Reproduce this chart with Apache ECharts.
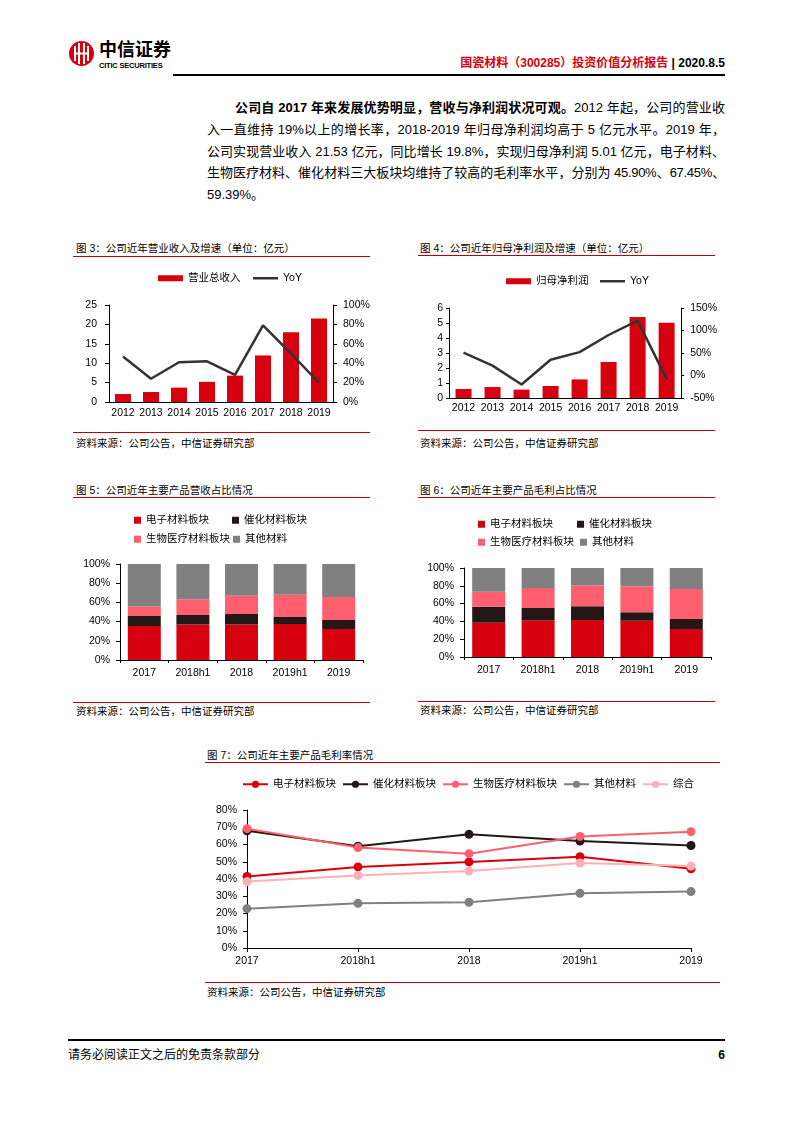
<!DOCTYPE html>
<html><head><meta charset="utf-8">
<script src="https://cdn.jsdelivr.net/npm/echarts@6/dist/echarts.min.js"></script>
<style>
body{margin:0;width:793px;height:1122px;background:#fff;position:relative;overflow:hidden;font-family:"Liberation Sans","Noto Sans CJK SC",sans-serif;color:#000}
.t{position:absolute;font-size:10.5px;line-height:14px;white-space:nowrap;color:#000}
.rl{position:absolute;height:1px;background:#c00000}
.p{position:absolute;left:207px;width:518px;font-size:13px;line-height:22px;text-align:justify;text-align-last:justify;white-space:nowrap;color:#000}
.c{position:absolute}
</style></head><body>

<!-- header -->
<svg style="position:absolute;left:68px;top:40px" width="27" height="27" viewBox="0 0 27 27">
  <circle cx="13.5" cy="13.5" r="12.5" fill="#d7000f"/>
  <rect x="6" y="6" width="2" height="15" fill="#fff"/>
  <rect x="10" y="3" width="2" height="21" fill="#fff"/>
  <rect x="15" y="3" width="2" height="21" fill="#fff"/>
  <rect x="19" y="6" width="2" height="15" fill="#fff"/>
  <rect x="6" y="12.5" width="15" height="2" fill="#fff"/>
</svg>
<div class="t" style="left:99px;top:39px;font-size:18px;line-height:22px;font-weight:bold">中信证券</div>
<div class="t" style="left:99px;top:61px;font-size:7.5px;line-height:10px;font-weight:bold;letter-spacing:-0.2px">CITIC SECURITIES</div>
<div class="t" style="right:68px;top:55px;font-size:12px;line-height:16px;font-weight:bold"><span style="color:#d7000f">国瓷材料（300285）投资价值分析报告</span> | 2020.8.5</div>
<div style="position:absolute;left:173px;top:74px;width:552px;height:2px;background:#000"></div>

<!-- paragraph -->
<div class="p" style="top:97px;left:235px;width:490px"><b>公司自 2017 年来发展优势明显，营收与净利润状况可观。</b>2012 年起，公司的营业收</div>
<div class="p" style="top:119px">入一直维持 19%以上的增长率，2018-2019 年归母净利润均高于 5 亿元水平。2019 年，</div>
<div class="p" style="top:141px">公司实现营业收入 21.53 亿元，同比增长 19.8%，实现归母净利润 5.01 亿元，电子材料、</div>
<div class="p" style="top:162px;letter-spacing:-0.3px">生物医疗材料、催化材料三大板块均维持了较高的毛利率水平，分别为 45.90%、67.45%、</div>
<div class="p" style="top:184px;text-align:left;text-align-last:left">59.39%。</div>

<!-- chart 3 -->
<div class="t" style="left:76px;top:241px">图 3：公司近年营业收入及增速（单位：亿元）</div>
<div class="rl" style="left:73px;top:256px;width:297px"></div>
<div class="c" id="c3" style="left:70px;top:265px;width:305px;height:160px"></div>
<div class="rl" style="left:73px;top:432px;width:297px"></div>
<div class="t" style="left:76px;top:436px">资料来源：公司公告，中信证券研究部</div>

<!-- chart 4 -->
<div class="t" style="left:420px;top:241px">图 4：公司近年归母净利润及增速（单位：亿元）</div>
<div class="rl" style="left:418px;top:255px;width:297px"></div>
<div class="c" id="c4" style="left:415px;top:265px;width:305px;height:160px"></div>
<div class="rl" style="left:418px;top:430px;width:297px"></div>
<div class="t" style="left:420px;top:436px">资料来源：公司公告，中信证券研究部</div>

<!-- chart 5 -->
<div class="t" style="left:76px;top:483px">图 5：公司近年主要产品营收占比情况</div>
<div class="rl" style="left:73px;top:497px;width:297px"></div>
<div class="c" id="c5" style="left:70px;top:505px;width:305px;height:190px"></div>
<div class="rl" style="left:73px;top:702px;width:297px"></div>
<div class="t" style="left:76px;top:704px">资料来源：公司公告，中信证券研究部</div>

<!-- chart 6 -->
<div class="t" style="left:420px;top:483px">图 6：公司近年主要产品毛利占比情况</div>
<div class="rl" style="left:418px;top:497px;width:297px"></div>
<div class="c" id="c6" style="left:415px;top:505px;width:305px;height:190px"></div>
<div class="rl" style="left:418px;top:701px;width:297px"></div>
<div class="t" style="left:420px;top:703px">资料来源：公司公告，中信证券研究部</div>

<!-- chart 7 -->
<div class="t" style="left:207px;top:748px">图 7：公司近年主要产品毛利率情况</div>
<div class="rl" style="left:205px;top:762px;width:515px"></div>
<div class="c" id="c7" style="left:200px;top:770px;width:525px;height:205px"></div>
<div class="rl" style="left:205px;top:982px;width:515px"></div>
<div class="t" style="left:207px;top:985px">资料来源：公司公告，中信证券研究部</div>

<!-- footer -->
<div style="position:absolute;left:68px;top:1039px;width:657px;height:1.5px;background:#000"></div>
<div class="t" style="left:68px;top:1047px;font-size:12px;line-height:16px">请务必阅读正文之后的免责条款部分</div>
<div class="t" style="right:68px;top:1047px;font-size:12px;line-height:16px;font-weight:bold">6</div>

<script>
// ---------- data ----------
const years = ['2012','2013','2014','2015','2016','2017','2018','2019'];
const revenue = [2.05, 2.57, 3.7, 5.2, 6.8, 12.0, 17.97, 21.53];
const revenueYoY = [47, 24, 41, 42, 28, 79, 50, 19.8];
const netProfit = [0.6, 0.73, 0.56, 0.8, 1.24, 2.4, 5.4, 5.01];
const netProfitYoY = [51, 22, -20, 35, 52, 90, 122, -8];

const periods = ['2017','2018h1','2018','2019h1','2019'];
const segNames = ['电子材料板块','催化材料板块','生物医疗材料板块','其他材料'];
const revShareElec  = [35.5, 37.0, 37.0, 37.5, 32.3];
const revShareCat   = [10.3, 10.0, 10.8, 7.3, 9.4];
const revShareBio   = [9.8, 16.2, 19.2, 23.2, 23.9];
const revShareOther = [44.4, 36.8, 33.0, 32.0, 34.4];

const gpShareElec  = [38.6, 41.2, 41.6, 40.8, 31.5];
const gpShareCat   = [18.0, 13.9, 15.3, 9.4, 11.2];
const gpShareBio   = [16.8, 22.4, 23.6, 29.2, 33.7];
const gpShareOther = [26.6, 22.5, 19.5, 20.6, 23.6];

const gmNames = ['电子材料板块','催化材料板块','生物医疗材料板块','其他材料','综合'];
const gmElec  = [41.5, 47.0, 49.9, 52.9, 45.90];
const gmCat   = [68.0, 59.0, 65.9, 62.0, 59.39];
const gmBio   = [69.2, 58.2, 54.7, 64.7, 67.45];
const gmOther = [22.8, 25.9, 26.5, 31.7, 32.7];
const gmTotal = [38.5, 42.1, 44.6, 49.3, 47.5];

// ---------- style ----------
const FF = '"Liberation Sans","Noto Sans CJK SC",sans-serif';
const RED = '#d7000f', DARK = '#231815', PINK = '#ff5f6e', GREY = '#808080', LPINK = '#ffb0b6', LINE = '#333333';
const axLine = {show:true, lineStyle:{color:'#000', width:1}};
const lbl = (m, fmt) => ({color:'#000', fontSize:10.5, fontFamily:FF, margin:m, formatter:fmt, interval:0});
const ltxt = {color:'#000', fontSize:10.5, fontFamily:FF};

function init(id){ return echarts.init(document.getElementById(id), null, {renderer:'canvas'}); }

function barLineLegends(barName, left, top, lineLeft){
  return [
    {left:left, top:top, padding:0, itemWidth:25, itemHeight:6, icon:'rect', textStyle:ltxt, data:[barName]},
    {left:lineLeft, top:top, padding:0, itemWidth:25, itemHeight:2.5, icon:'rect', textStyle:ltxt, data:['YoY']}
  ];
}

// chart 3
init('c3').setOption({
  animation:false, textStyle:{fontFamily:FF},
  legend:barLineLegends('营业总收入', 88, 8, 183),
  grid:{left:39, right:42, top:40, bottom:23},
  xAxis:{type:'category', data:years, axisLine:axLine, axisTick:{show:false}, axisLabel:lbl(6)},
  yAxis:[
    {type:'value', min:0, max:25, interval:5, axisLine:axLine, axisTick:{show:true, length:4, lineStyle:{color:'#000'}}, splitLine:{show:false}, axisLabel:lbl(12)},
    {type:'value', min:0, max:100, interval:20, axisLine:axLine, axisTick:{show:true, length:4, lineStyle:{color:'#000'}}, splitLine:{show:false}, axisLabel:lbl(10, '{value}%')}
  ],
  series:[
    {name:'营业总收入', type:'bar', data:revenue, barWidth:16, itemStyle:{color:RED}},
    {name:'YoY', type:'line', yAxisIndex:1, data:revenueYoY, symbol:'none', lineStyle:{color:LINE, width:2.5}, itemStyle:{color:LINE}}
  ]
});

// chart 4
init('c4').setOption({
  animation:false, textStyle:{fontFamily:FF},
  legend:barLineLegends('归母净利润', 91, 11, 185),
  grid:{left:34, right:38, top:43, bottom:27},
  xAxis:{type:'category', data:years, axisLine:axLine, axisTick:{show:false}, axisLabel:lbl(5)},
  yAxis:[
    {type:'value', min:0, max:6, interval:1, axisLine:axLine, axisTick:{show:true, length:3, lineStyle:{color:'#000'}}, splitLine:{show:false}, axisLabel:lbl(6)},
    {type:'value', min:-50, max:150, interval:50, axisLine:axLine, axisTick:{show:true, length:3, lineStyle:{color:'#000'}}, splitLine:{show:false}, axisLabel:lbl(9, '{value}%')}
  ],
  series:[
    {name:'归母净利润', type:'bar', data:netProfit, barWidth:16, itemStyle:{color:RED}},
    {name:'YoY', type:'line', yAxisIndex:1, data:netProfitYoY, symbol:'none', lineStyle:{color:LINE, width:2.5}, itemStyle:{color:LINE}}
  ]
});

// stacked charts
function stacked(id, data, pos){
  const colors = [RED, DARK, PINK, GREY];
  const legends = segNames.map((n,i)=>({left:pos.lx[i], top:pos.ly[i], padding:0, itemWidth:7, itemHeight:7, icon:'rect', textStyle:{color:'#000', fontSize:10.5, fontFamily:FF}, data:[n]}));
  init(id).setOption({
    animation:false, textStyle:{fontFamily:FF},
    legend:legends,
    grid:pos.grid,
    xAxis:{type:'category', data:periods, axisLine:axLine, axisTick:{show:true, length:3, lineStyle:{color:'#000'}}, axisLabel:lbl(8)},
    yAxis:{type:'value', min:0, max:100, interval:20, axisLine:axLine, axisTick:{show:true, length:4, lineStyle:{color:'#000'}}, splitLine:{show:false}, axisLabel:lbl(10, '{value}%')},
    series:segNames.map((n,i)=>({name:n, type:'bar', stack:'s', data:data[i], barWidth:33, itemStyle:{color:colors[i]}}))
  });
}
stacked('c5', [revShareElec, revShareCat, revShareBio, revShareOther],
  {lx:[64,162,64,163], ly:[10,10,29,29], grid:{left:50, right:12, top:59, bottom:35}});
stacked('c6', [gpShareElec, gpShareCat, gpShareBio, gpShareOther],
  {lx:[63,162,63,165], ly:[14,14,32,32], grid:{left:49, right:9, top:63, bottom:38}});

// chart 7
const gmColors = [RED, DARK, PINK, GREY, LPINK];
const gmData = [gmElec, gmCat, gmBio, gmOther, gmTotal];
init('c7').setOption({
  animation:false, textStyle:{fontFamily:FF},
  legend:{left:42, top:9, padding:0, itemGap:6, itemWidth:25, itemHeight:9, textStyle:ltxt, data:gmNames},
  grid:{left:47, right:34, top:40, bottom:27},
  xAxis:{type:'category', boundaryGap:false, data:periods, axisLine:axLine, axisTick:{show:true, length:4, lineStyle:{color:'#000'}}, axisLabel:lbl(8)},
  yAxis:{type:'value', min:0, max:80, interval:10, axisLine:axLine, axisTick:{show:true, length:4, lineStyle:{color:'#000'}}, splitLine:{show:false}, axisLabel:lbl(10, '{value}%')},
  series:gmNames.map((n,i)=>({name:n, type:'line', data:gmData[i], symbol:'circle', symbolSize:9,
    lineStyle:{color:gmColors[i], width:2}, itemStyle:{color:gmColors[i]}}))
});
</script>
</body></html>
